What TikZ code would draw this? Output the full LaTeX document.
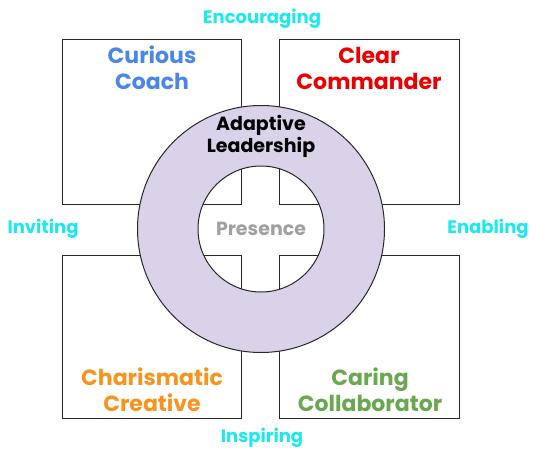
\documentclass[tikz,border=0pt]{standalone}
\usepackage{fontspec}
\setmainfont{Poppins}
\definecolor{cyanlbl}{RGB}{28,232,240}
\definecolor{coachblue}{RGB}{74,134,232}
\definecolor{cmdred}{RGB}{235,0,0}
\definecolor{creorange}{RGB}{246,148,30}
\definecolor{colgreen}{RGB}{106,168,79}
\definecolor{ringfill}{RGB}{217,210,233}
\definecolor{presgray}{RGB}{160,160,160}
\definecolor{edge}{RGB}{40,40,40}
\begin{document}
\begin{tikzpicture}[x=1pt,y=-1pt,
  quad/.style={draw=edge,line width=1pt,fill=white},
  title/.style={font=\fontsize{22}{26}\selectfont\bfseries,align=center,inner sep=0pt},
  side/.style={font=\fontsize{18}{20}\selectfont\bfseries,text=cyanlbl,inner sep=0pt},
  core/.style={font=\fontsize{19}{22}\selectfont\bfseries,align=center,inner sep=0pt}]
\useasboundingbox (0,0) rectangle (540,460);
% quadrant boxes
\draw[quad] (62,40) rectangle (241,204);
\draw[quad] (279,40) rectangle (459,204);
\draw[quad] (62,255) rectangle (241,418);
\draw[quad] (279,255) rectangle (459,418);
\coordinate (c) at (261,229);
% ring
\draw[draw=edge,line width=1pt,fill=ringfill,even odd rule]
  (c) circle[radius=123.5] (c) circle[radius=63];
% titles
\node[title,text=coachblue] (coach) at (152,68) {Curious\\Coach};
\node[title,text=cmdred] (cmd) at (369,68) {Clear\\Commander};
\node[title,text=creorange] (cre) at (152,390) {Charismatic\\Creative};
\node[title,text=colgreen] (col) at (370,390) {Caring\\Collaborator};
\node[core,text=black] (al) at (261,136) {Adaptive\\Leadership};
\node[core,text=presgray] (pres) at (c) {Presence};
% side labels
\node[side] (enc) at (262,19) {Encouraging};
\node[side] (ins) at (262,438) {Inspiring};
\node[side] (inv) at (43,229) {Inviting};
\node[side] (ena) at (488,229) {Enabling};
\end{tikzpicture}
\end{document}
